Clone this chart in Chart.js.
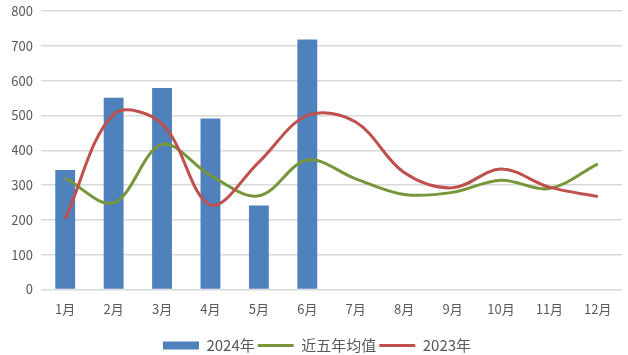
<!DOCTYPE html>
<html><head><meta charset="utf-8">
<script src="https://cdn.jsdelivr.net/npm/chart.js@4"></script>
<style>html,body{margin:0;padding:0;background:#fff}#wrap{width:628px;height:355px}</style>
</head><body><div id="wrap"><canvas id="c" width="628" height="355"></canvas></div>
<script>
const months = ['1月','2月','3月','4月','5月','6月','7月','8月','9月','10月','11月','12月'];
const y2024 = [343, 551, 579, 491, 241, 718, null, null, null, null, null, null];
const avg5 = [320, 249, 417, 328, 269, 372, 318, 273, 279, 314, 290, 361];
const y2023 = [203, 503, 476, 243, 366, 500, 481, 336, 292, 346, 294, 267];
const yTicks = [0, 100, 200, 300, 400, 500, 600, 700, 800];

const FONT = '"Noto Sans CJK SC", "Noto Sans", sans-serif';
new Chart(document.getElementById('c'), {
  type: 'bar',
  data: {
    labels: months,
    datasets: [
      {label: '2024年', data: y2024, backgroundColor: '#4f81bd', borderWidth: 0,
       categoryPercentage: 1, barPercentage: 0.41, pointStyle: 'rect', order: 3},
      {type: 'line', label: '近五年均值', data: avg5, borderColor: '#77963b', backgroundColor: '#77963b',
       borderWidth: 3, pointRadius: 0, tension: 0.35, pointStyle: 'line', order: 2},
      {type: 'line', label: '2023年', data: y2023, borderColor: '#c0504d', backgroundColor: '#c0504d',
       borderWidth: 3, pointRadius: 0, tension: 0.35, pointStyle: 'line', order: 1}
    ]
  },
  options: {
    responsive: false, animation: false,
    layout: {padding: {top: 11, right: 6, left: 12, bottom: -8}},
    plugins: {
      legend: {position: 'bottom',
        labels: {usePointStyle: true, pointStyleWidth: 36, boxHeight: 8, color: '#595959',
          font: {family: FONT, size: 15}, padding: 3,
          sort: (a, b) => a.datasetIndex - b.datasetIndex}},
      tooltip: {enabled: false}
    },
    scales: {
      x: {grid: {display: false}, border: {display: false},
          afterFit: s => { s.height = 45.5; },
          ticks: {color: '#595959', font: {family: FONT, size: 13}, padding: 3.5}},
      y: {min: 0, max: 800, afterBuildTicks: s => { s.ticks = yTicks.map(v => ({value: v})); },
          afterFit: s => { s.width = 29; s.paddingTop = 0; s.paddingBottom = 0; },
          grid: {color: '#d9d9d9', lineWidth: 1.5, drawTicks: false},
          border: {display: false},
          ticks: {color: '#595959', font: {family: FONT, size: 13}, padding: 8}}
    }
  }
});
</script></body></html>
